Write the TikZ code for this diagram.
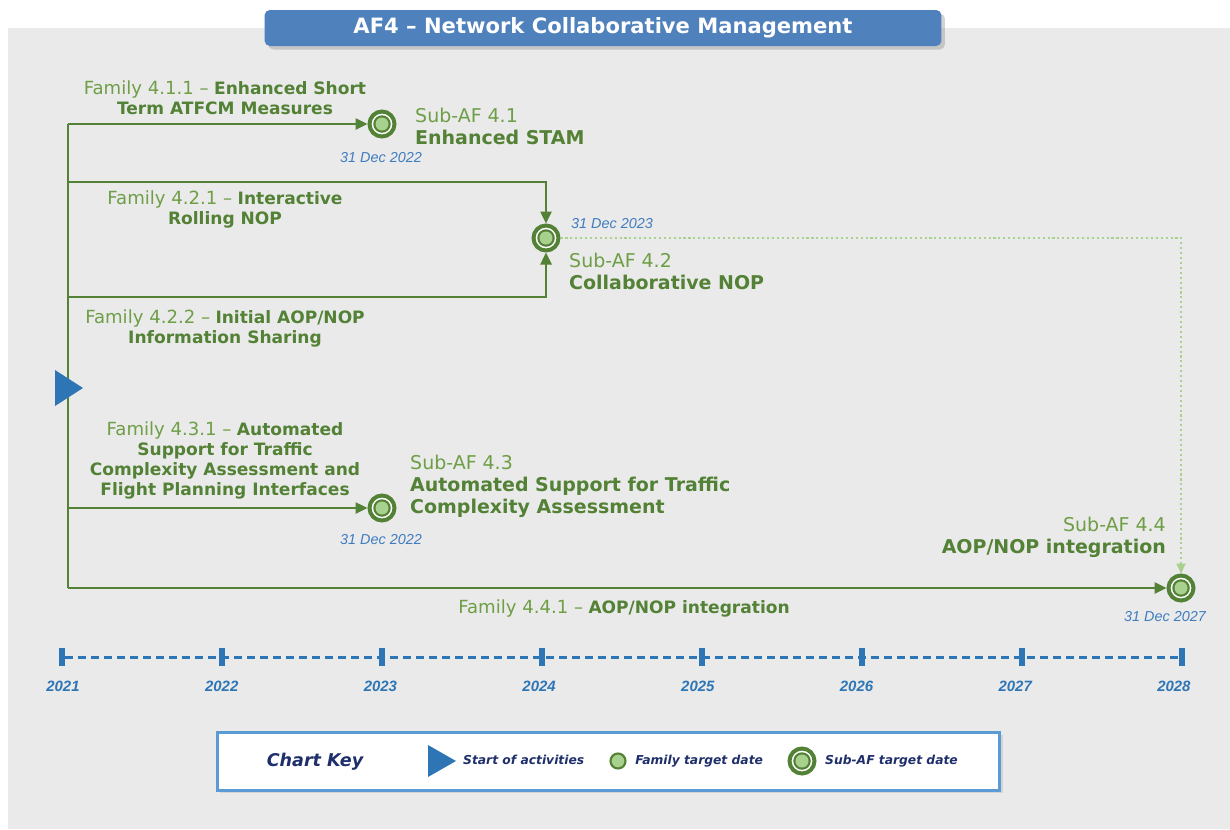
\documentclass[tikz,border=0pt]{standalone}
\usepackage{fontspec}
\setmainfont{DejaVu Sans}
\newfontfamily\datefont{Liberation Sans}
\usetikzlibrary{positioning,arrows.meta,shadows}

\definecolor{afgreen}{HTML}{538135}
\definecolor{famlight}{HTML}{6E9E46}
\definecolor{dotgreen}{HTML}{A9D18E}
\definecolor{afblue}{HTML}{2E75B6}
\definecolor{titleblue}{HTML}{4F81BD}
\definecolor{datblue}{HTML}{3F7CC0}
\definecolor{keynavy}{HTML}{1F2F6B}
\definecolor{bggray}{HTML}{EAEAEA}
\definecolor{keyborder}{HTML}{5B9BD5}

\newcommand{\famtag}[1]{{\fontsize{10.3}{11.4}\selectfont\color{famlight}#1}}

\begin{document}
\begin{tikzpicture}[
  x=0.02cm, y=-0.02cm,
  famline/.style={afgreen,line width=1.4pt},
  famarrow/.style={famline,-{Triangle[length=2.4mm,width=2.2mm]}},
  dotline/.style={dotgreen,line width=1pt,dash pattern=on 1.2pt off 1.6pt,-{Triangle[length=2mm,width=1.8mm]}},
  subaf/.style={circle,draw=afgreen,line width=0.08cm,fill=white,minimum size=0.5cm,inner sep=0pt,
    path picture={\fill[afgreen] (path picture bounding box.center) circle (0.175cm);
      \fill[dotgreen] (path picture bounding box.center) circle (0.13cm);}},
  famdot/.style={circle,draw=afgreen,line width=1.2pt,fill=dotgreen,minimum size=0.3cm,inner sep=0pt},
  famlbl/.style={align=center,font=\fontsize{9.7}{11.4}\selectfont,text=afgreen},
  sublbl/.style={align=left,font=\fontsize{10.8}{12.5}\selectfont,text=afgreen},
  datelbl/.style={font=\datefont\itshape\fontsize{8.2}{9.6}\selectfont,text=datblue},
  yearlbl/.style={font=\datefont\bfseries\itshape\fontsize{8.5}{10}\selectfont,text=afblue},
  keylbl/.style={anchor=west,font=\bfseries\itshape\fontsize{7}{8.4}\selectfont,text=keynavy},
  tick/.style={fill=afblue,minimum width=0.12cm,minimum height=0.36cm,inner sep=0pt},
]
\useasboundingbox (0,0) rectangle (1230,829);
\fill[white] (0,0) rectangle (1230,829);
\fill[bggray] (8,28) rectangle (1230,829);

% title
\node[fill=titleblue,rounded corners=3pt,minimum width=13.54cm,minimum height=0.72cm,
  text=white,font=\bfseries\fontsize{12}{14}\selectfont,
  drop shadow={opacity=0.35,shadow xshift=2pt,shadow yshift=-2pt}]
  (title) at (603,28) {AF4 – Network Collaborative Management};

% target dates
\node[subaf] (sub1) at (382,124) {};
\node[subaf] (sub2) at (546,238) {};
\node[subaf] (sub3) at (382,508) {};
\node[subaf] (sub4) at (1181,588) {};

% family branches
\coordinate (t1) at (68,124);
\coordinate (t2) at (68,182);
\coordinate (t3) at (68,297);
\coordinate (t4) at (68,508);
\coordinate (t5) at (68,588);
\draw[famline] (t1) -- (t5);
\draw[famarrow] (t1) -- (sub1);
\draw[famarrow] (t2) -| (sub2);
\draw[famarrow] (t3) -| (sub2);
\draw[famarrow] (t4) -- (sub3);
\draw[famarrow] (t5) -- (sub4);
\draw[dotline] (sub2) -| (sub4);

% start of activities
\fill[afblue] (55,370) -- (83,388) -- (55,406) -- cycle;

% family labels
\node[famlbl] (fam411) at (225,98) {\famtag{Family 4.1.1 –} \textbf{Enhanced Short}\\\textbf{Term ATFCM Measures}};
\node[famlbl] (fam421) at (225,209) {\famtag{Family 4.2.1 –} \textbf{Interactive}\\\textbf{Rolling NOP}};
\node[famlbl] (fam422) at (225,328) {\famtag{Family 4.2.2 –} \textbf{Initial AOP/NOP}\\\textbf{Information Sharing}};
\node[famlbl] (fam431) at (225,460) {\famtag{Family 4.3.1 –} \textbf{Automated}\\\textbf{Support for Traffic}\\\textbf{Complexity Assessment and}\\\textbf{Flight Planning Interfaces}};
\node[famlbl] (fam441) at (624,608) {\famtag{Family 4.4.1 –} \textbf{AOP/NOP integration}};

% sub-AF labels
\node[sublbl,anchor=west] (lbl1) at (409,126) {{\color{famlight}Sub-AF 4.1}\\\textbf{Enhanced STAM}};
\node[sublbl,anchor=west] (lbl2) at (563,271) {{\color{famlight}Sub-AF 4.2}\\\textbf{Collaborative NOP}};
\node[sublbl,anchor=west] (lbl3) at (404,486) {{\color{famlight}Sub-AF 4.3}\\\textbf{Automated Support for Traffic}\\\textbf{Complexity Assessment}};
\node[sublbl,anchor=east,align=right] (lbl4) at (1172,537) {{\color{famlight}Sub-AF 4.4}\\\textbf{AOP/NOP integration}};

% dates
\node[datelbl] (d1) at (381,158) {31 Dec 2022};
\node[datelbl,anchor=west] (d2) at (565,224) {31 Dec 2023};
\node[datelbl] (d3) at (381,540) {31 Dec 2022};
\node[datelbl] (d4) at (1165,617) {31 Dec 2027};

% time axis
\foreach \yr [count=\i from 0] in {2021,...,2028} {
  \node[tick] (tk\i) at (62+160*\i,657) {};
  \node[yearlbl] at (63+158.7*\i,686) {\yr};
}
\draw[afblue,line width=0.06cm,dash pattern=on 0.16cm off 0.1cm] (tk0.east) -- (tk7.west);

% chart key
\node[draw=keyborder,line width=0.06cm,fill=white,minimum width=15.66cm,minimum height=1.16cm,
  drop shadow={opacity=0.2,shadow xshift=1.5pt,shadow yshift=-1.5pt}] (key) at (608.5,761) {};
\node[font=\bfseries\itshape\fontsize{10}{12}\selectfont,text=keynavy] (keyttl) at (315,762) {Chart Key};
\fill[afblue] (428,745) -- (456,761) -- (428,777) -- cycle;
\node[keylbl] (k1) at (457,760) {Start of activities};
\node[famdot] (kdot) at (618,761) {};
\node[keylbl,right=0.5mm of kdot] (k2) {Family target date};
\node[subaf] (ksub) at (802,761) {};
\node[keylbl,right=0.5mm of ksub] (k3) {Sub-AF target date};
\end{tikzpicture}
\end{document}
